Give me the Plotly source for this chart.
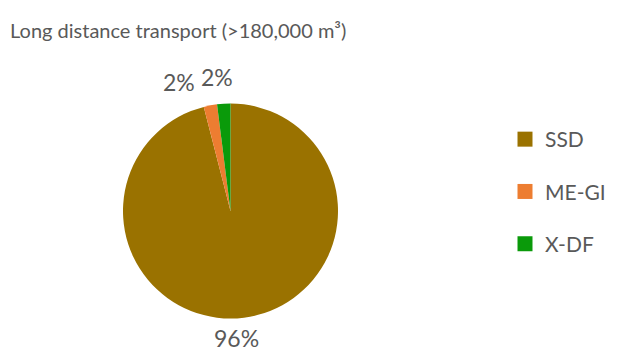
import math
import plotly.graph_objects as go

# Share of long distance transport by engine type
labels = ["SSD", "ME-GI", "X-DF"]
values = [96, 2, 2]
colors = ["#9A7200", "#ED7D31", "#0A9A0A"]

W, H = 624, 354
TEXT = "#595959"
FONT = "Lato, Carlito, Calibri, sans-serif"

# pie geometry in pixels
CX, CY, R = 230.5, 211.0, 107.5

fig = go.Figure()

fig.add_trace(go.Pie(
    labels=labels,
    values=values,
    sort=False,
    direction="clockwise",
    rotation=0,
    marker=dict(colors=colors, line=dict(width=0)),
    textinfo="none",
    hoverinfo="label+percent",
    showlegend=False,
    domain=dict(x=[(CX - R) / W, (CX + R) / W],
                y=[(H - CY - R) / H, (H - CY + R) / H]),
))

# percentage labels outside the slices, placed from each slice's mid angle
total = sum(values)
cum = 0.0
mids = []
for v in values:
    mids.append((cum + v / 2) / total * 2 * math.pi)
    cum += v

prev_x = None
for v, mid in reversed(list(zip(values, mids))):
    share = v / total
    dist = R + (21 if share > 0.1 else 27)
    px = CX + dist * math.sin(mid)
    py = CY - dist * math.cos(mid)
    if share > 0.1:
        # large slice: pull the label part way toward the vertical axis
        px = CX + 0.4 * (px - CX)
    if share < 0.1:
        px -= 5
        # keep neighbouring labels of thin slices side by side
        if prev_x is not None and px > prev_x - 38:
            px = prev_x - 38
            py += 3
        prev_x = px
    fig.add_annotation(
        x=px / W, y=1 - py / H, xref="paper", yref="paper",
        text=f"{round(100 * share)}%", showarrow=False,
        xanchor="center", yanchor="middle",
        font=dict(size=23, color=TEXT, family=FONT),
    )

# legend entries as square markers so the rows can be spaced apart
for lab, col in zip(labels, colors):
    fig.add_trace(go.Scatter(
        x=[None], y=[None], mode="markers", name=lab,
        marker=dict(symbol="square", size=15, color=col),
        legendgroup=lab, showlegend=True, hoverinfo="skip",
    ))

fig.update_layout(
    width=W, height=H,
    margin=dict(l=0, r=0, t=0, b=0),
    paper_bgcolor="white", plot_bgcolor="white",
    font=dict(family=FONT, color=TEXT),
    title=dict(
        text="Long distance transport (>180,000 m³)",
        x=10 / W, xanchor="left", xref="container",
        y=1 - 31 / H, yanchor="middle", yref="container",
        font=dict(size=20, color=TEXT, family=FONT),
    ),
    xaxis=dict(visible=False), yaxis=dict(visible=False),
    legend=dict(
        x=505 / W, xanchor="left", y=1 - 119 / H, yanchor="top",
        font=dict(size=21, color=TEXT, family=FONT),
        tracegroupgap=22, traceorder="grouped",
        itemwidth=30, bgcolor="rgba(0,0,0,0)",
    ),
)

fig.write_html("out.html")
